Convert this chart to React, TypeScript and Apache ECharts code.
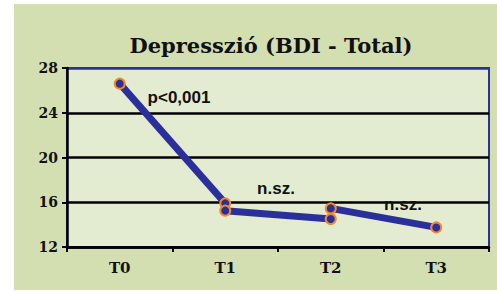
import React, { useEffect, useRef } from "react";
import * as echarts from "echarts";

const categories = ["T0", "T1", "T2", "T3"];
const seriesA = [26.6, 15.9, null, null];
const seriesB = [null, 15.25, 14.5, null];
const seriesC = [null, null, 15.45, 13.75];
const yTicks = { min: 12, max: 28, interval: 4 };
const titleText = "Depresszió (BDI - Total)";
const annotations = [
  { text: "p<0,001", x: 179, y: 97 },
  { text: "n.sz.", x: 276, y: 188 },
  { text: "n.sz.", x: 403, y: 204 },
];

const SERIF = "DejaVu Serif";

export default function App() {
  const ref = useRef<HTMLDivElement>(null);
  useEffect(() => {
    document.body.style.margin = "0";
    const chart = echarts.init(ref.current!, null, { renderer: "svg" });
    const lineSeries = (data: (number | null)[]) => ({
      type: "line",
      data,
      connectNulls: false,
      symbol: "circle",
      symbolSize: 10,
      lineStyle: { color: "#2a2f9c", width: 7 },
      itemStyle: { color: "#2a2f9c", borderColor: "#f08a2c", borderWidth: 2 },
      z: 5,
    });
    chart.setOption({
      animation: false,
      backgroundColor: "#ffffff",
      graphic: [
        {
          type: "rect",
          shape: { x: 14, y: 4, width: 483, height: 286 },
          style: { fill: "#d3dfb1" },
          z: -10,
        },
        ...annotations.map((a) => ({
          type: "text",
          x: a.x,
          y: a.y,
          z: 3,
          style: {
            text: a.text,
            fontFamily: "Liberation Sans",
            fontWeight: "bold",
            fontSize: 17,
            fill: "#111111",
            align: "center",
            verticalAlign: "middle",
          },
        })),
      ],
      title: {
        text: titleText,
        left: 266,
        top: 30,
        textAlign: "center",
        textStyle: {
          fontFamily: SERIF,
          fontWeight: "bold",
          fontSize: 21,
          color: "#111111",
        },
      },
      grid: {
        left: 67,
        right: 8,
        top: 68,
        bottom: 45,
        show: true,
        backgroundColor: "#e3ebd0",
        borderColor: "#2b3399",
        borderWidth: 2,
      },
      xAxis: {
        type: "category",
        data: categories,
        boundaryGap: true,
        axisLine: { lineStyle: { color: "#000", width: 2.5 } },
        axisTick: { show: true, length: 5, lineStyle: { color: "#000", width: 2 } },
        axisLabel: {
          margin: 13,
          fontFamily: SERIF,
          fontWeight: "bold",
          fontSize: 15,
          color: "#111",
        },
        splitLine: { show: false },
      },
      yAxis: {
        type: "value",
        min: yTicks.min,
        max: yTicks.max,
        interval: yTicks.interval,
        axisLine: { show: true, lineStyle: { color: "#000", width: 2.5 } },
        axisTick: { show: true, length: 5, lineStyle: { color: "#000", width: 2 } },
        axisLabel: {
          margin: 9,
          fontFamily: SERIF,
          fontWeight: "bold",
          fontSize: 14,
          color: "#111",
        },
        splitLine: {
          show: true,
          lineStyle: { color: ["#000", "#000", "#000", "#000", "#2b3399"], width: 2.5 },
        },
      },
      series: [lineSeries(seriesA), lineSeries(seriesB), lineSeries(seriesC)],
    });
    return () => chart.dispose();
  }, []);
  return <div ref={ref} style={{ width: 497, height: 292 }} />;
}
